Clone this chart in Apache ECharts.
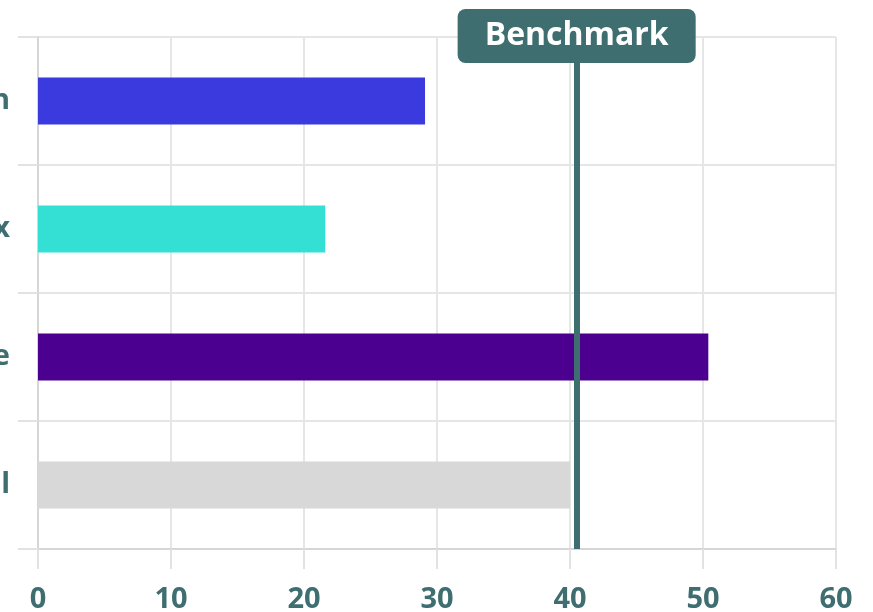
<!DOCTYPE html>
<html>
<head>
<meta charset="utf-8">
<script src="https://cdn.jsdelivr.net/npm/echarts@6/dist/echarts.min.js"></script>
<style>
  html, body { margin: 0; padding: 0; background: #fff; }
  #chart { width: 873px; height: 612px; }
</style>
</head>
<body>
<div id="chart"></div>
<script>
// Categories listed top to bottom
const categories = ['Region', 'Index', 'Average', 'Total'];
const values = [29.1, 21.6, 50.4, 40.0];
const barColors = ['#3a3ade', '#34e0d4', '#4b008f', '#d8d8d8'];
const benchmarkValue = 40.5;
const benchmarkLabel = 'Benchmark';
const xTicks = { min: 0, max: 60, interval: 10 };

const teal = '#3f6e70';
const fontFamily = '"Open Sans", "Noto Sans", sans-serif';

const chart = echarts.init(document.getElementById('chart'));
chart.setOption({
  animation: false,
  grid: { left: 38, right: 37, top: 37, bottom: 63, containLabel: false, outerBoundsMode: 'none' },
  xAxis: {
    type: 'value',
    min: xTicks.min, max: xTicks.max, interval: xTicks.interval,
    axisLine: { show: true, lineStyle: { color: '#d6d6d6', width: 2 } },
    axisTick: { show: true, length: 20, lineStyle: { color: '#e2e2e2', width: 2 } },
    splitLine: { show: true, lineStyle: { color: '#e6e6e6', width: 2 } },
    axisLabel: { color: teal, fontSize: 29, fontWeight: 'bold', fontFamily: fontFamily, margin: 36 }
  },
  yAxis: {
    type: 'category',
    data: categories,
    inverse: true,
    axisLine: { show: true, lineStyle: { color: '#d6d6d6', width: 2 } },
    axisTick: { show: true, length: 20, lineStyle: { color: '#e2e2e2', width: 2 } },
    splitLine: { show: true, lineStyle: { color: '#e6e6e6', width: 2 } },
    axisLabel: { color: teal, fontSize: 29, fontWeight: 'bold', fontFamily: fontFamily, margin: 28 }
  },
  series: [{
    type: 'bar',
    data: values.map((v, i) => ({ value: v, itemStyle: { color: barColors[i] } })),
    barWidth: 47,
    markLine: {
      silent: true,
      symbol: ['none', 'none'],
      lineStyle: { color: teal, width: 6, type: 'solid' },
      label: {
        show: true,
        position: 'start',
        formatter: benchmarkLabel,
        color: '#ffffff',
        fontSize: 32,
        lineHeight: 34,
        fontWeight: 'bold',
        fontFamily: fontFamily,
        backgroundColor: teal,
        borderRadius: 8,
        padding: [10, 27, 10, 27],
        distance: -26
      },
      data: [{ xAxis: benchmarkValue }]
    }
  }]
});
</script>
</body>
</html>
